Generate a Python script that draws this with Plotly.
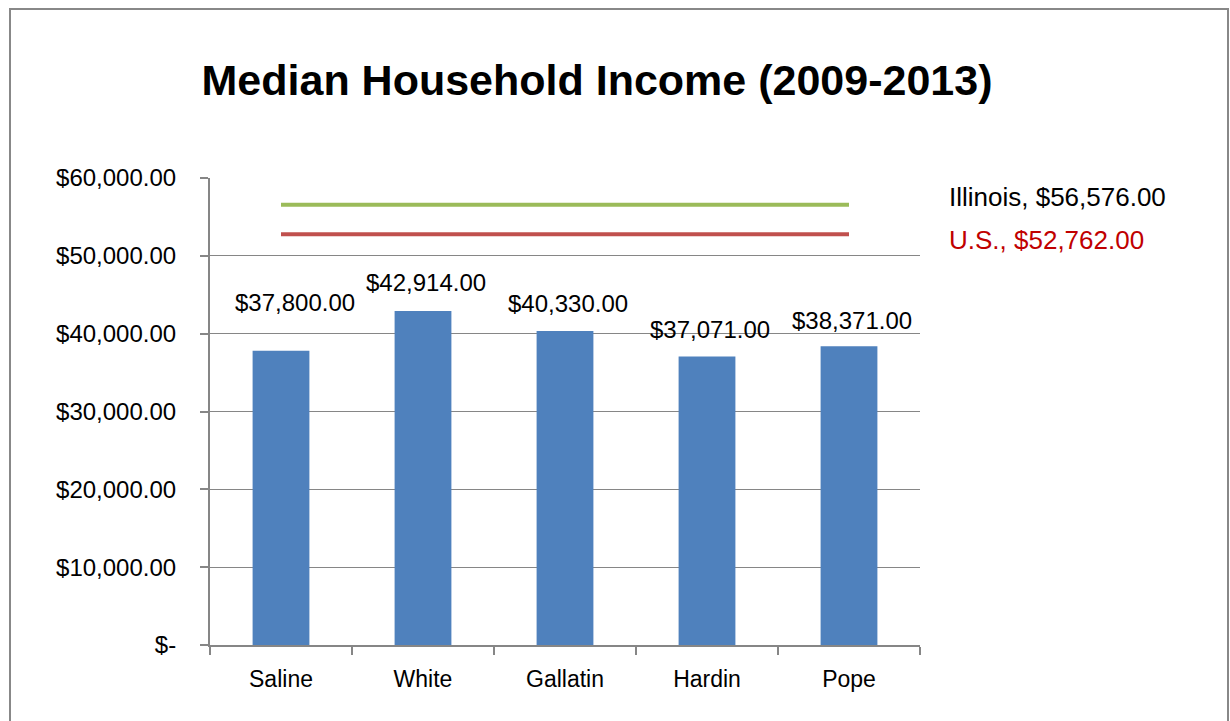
import plotly.graph_objects as go

counties = ["Saline", "White", "Gallatin", "Hardin", "Pope"]
incomes = [37800, 42914, 40330, 37071, 38371]
illinois_income = 56576
us_income = 52762
ytick_vals = [0, 10000, 20000, 30000, 40000, 50000, 60000]
ytick_text = ["$-", "$10,000.00", "$20,000.00", "$30,000.00", "$40,000.00", "$50,000.00", "$60,000.00"]

FONT = "Liberation Sans"
W, H = 1230, 721
L, R, T, B = 210, 310, 178, 76

def money(v):
    return "${:,.2f}".format(v)

fig = go.Figure()
fig.add_trace(go.Bar(x=counties, y=incomes, marker=dict(color="#4F81BD", line=dict(width=0)),
                     showlegend=False, hoverinfo="x+y"))
fig.add_trace(go.Scatter(x=counties, y=[illinois_income] * len(counties), mode="lines",
                         line=dict(color="#9BBB59", width=4), showlegend=False))
fig.add_trace(go.Scatter(x=counties, y=[us_income] * len(counties), mode="lines",
                         line=dict(color="#C0504D", width=4), showlegend=False))

label_yshift = [48, 28, 28, 27, 26]
label_xshift = [14, 3, 3, 3, 3]
for c, v, ys, xs in zip(counties, incomes, label_yshift, label_xshift):
    fig.add_annotation(x=c, y=v, text=money(v), showarrow=False, yshift=ys, xshift=xs,
                       font=dict(family=FONT, size=24, color="black"))

pw, ph = W - L - R, H - T - B
fig.add_annotation(xref="paper", x=(947 - L) / pw, y=illinois_income, yshift=8,
                   xanchor="left", text="Illinois, " + money(illinois_income), showarrow=False,
                   font=dict(family=FONT, size=26, color="black"))
fig.add_annotation(xref="paper", x=(947 - L) / pw, y=us_income, yshift=-6,
                   xanchor="left", text="U.S., " + money(us_income), showarrow=False,
                   font=dict(family=FONT, size=26, color="#C00000"))

fig.add_shape(type="rect", xref="paper", yref="paper",
              x0=(10 - L) / pw, x1=(1228 - L) / pw,
              y0=(H - B - 740) / ph, y1=(H - B - 9) / ph,
              line=dict(color="#888888", width=2), fillcolor="rgba(0,0,0,0)", layer="below")

fig.update_layout(
    width=W, height=H,
    margin=dict(l=L, r=R, t=T, b=B),
    paper_bgcolor="white", plot_bgcolor="white",
    bargap=0.6,
    title=dict(text="<b>Median Household Income (2009-2013)</b>", xref="container", yref="container",
               x=597 / W, y=1 - 80 / H, xanchor="center", yanchor="middle",
               font=dict(family=FONT, size=43, color="black")),
    font=dict(family=FONT, size=24, color="black"),
)
fig.update_xaxes(showline=True, linecolor="#868686", linewidth=2, ticks="outside", tickson="boundaries",
                 ticklen=8, tickcolor="#868686", tickwidth=2, showgrid=False, ticklabelstandoff=12,
                 tickfont=dict(family=FONT, size=23, color="black"))
fig.update_yaxes(range=[0, 60000], tickvals=ytick_vals, ticktext=ytick_text, showline=True,
                 linecolor="#868686", linewidth=2, ticks="outside", ticklen=8, tickcolor="#868686",
                 tickwidth=2, showgrid=True, gridcolor="#868686", gridwidth=1, zeroline=False,
                 ticklabelstandoff=19, tickfont=dict(family=FONT, size=24, color="black"))

fig.write_html("out.html", config={"displayModeBar": False},
               post_script="document.body.style.margin='0px';")
